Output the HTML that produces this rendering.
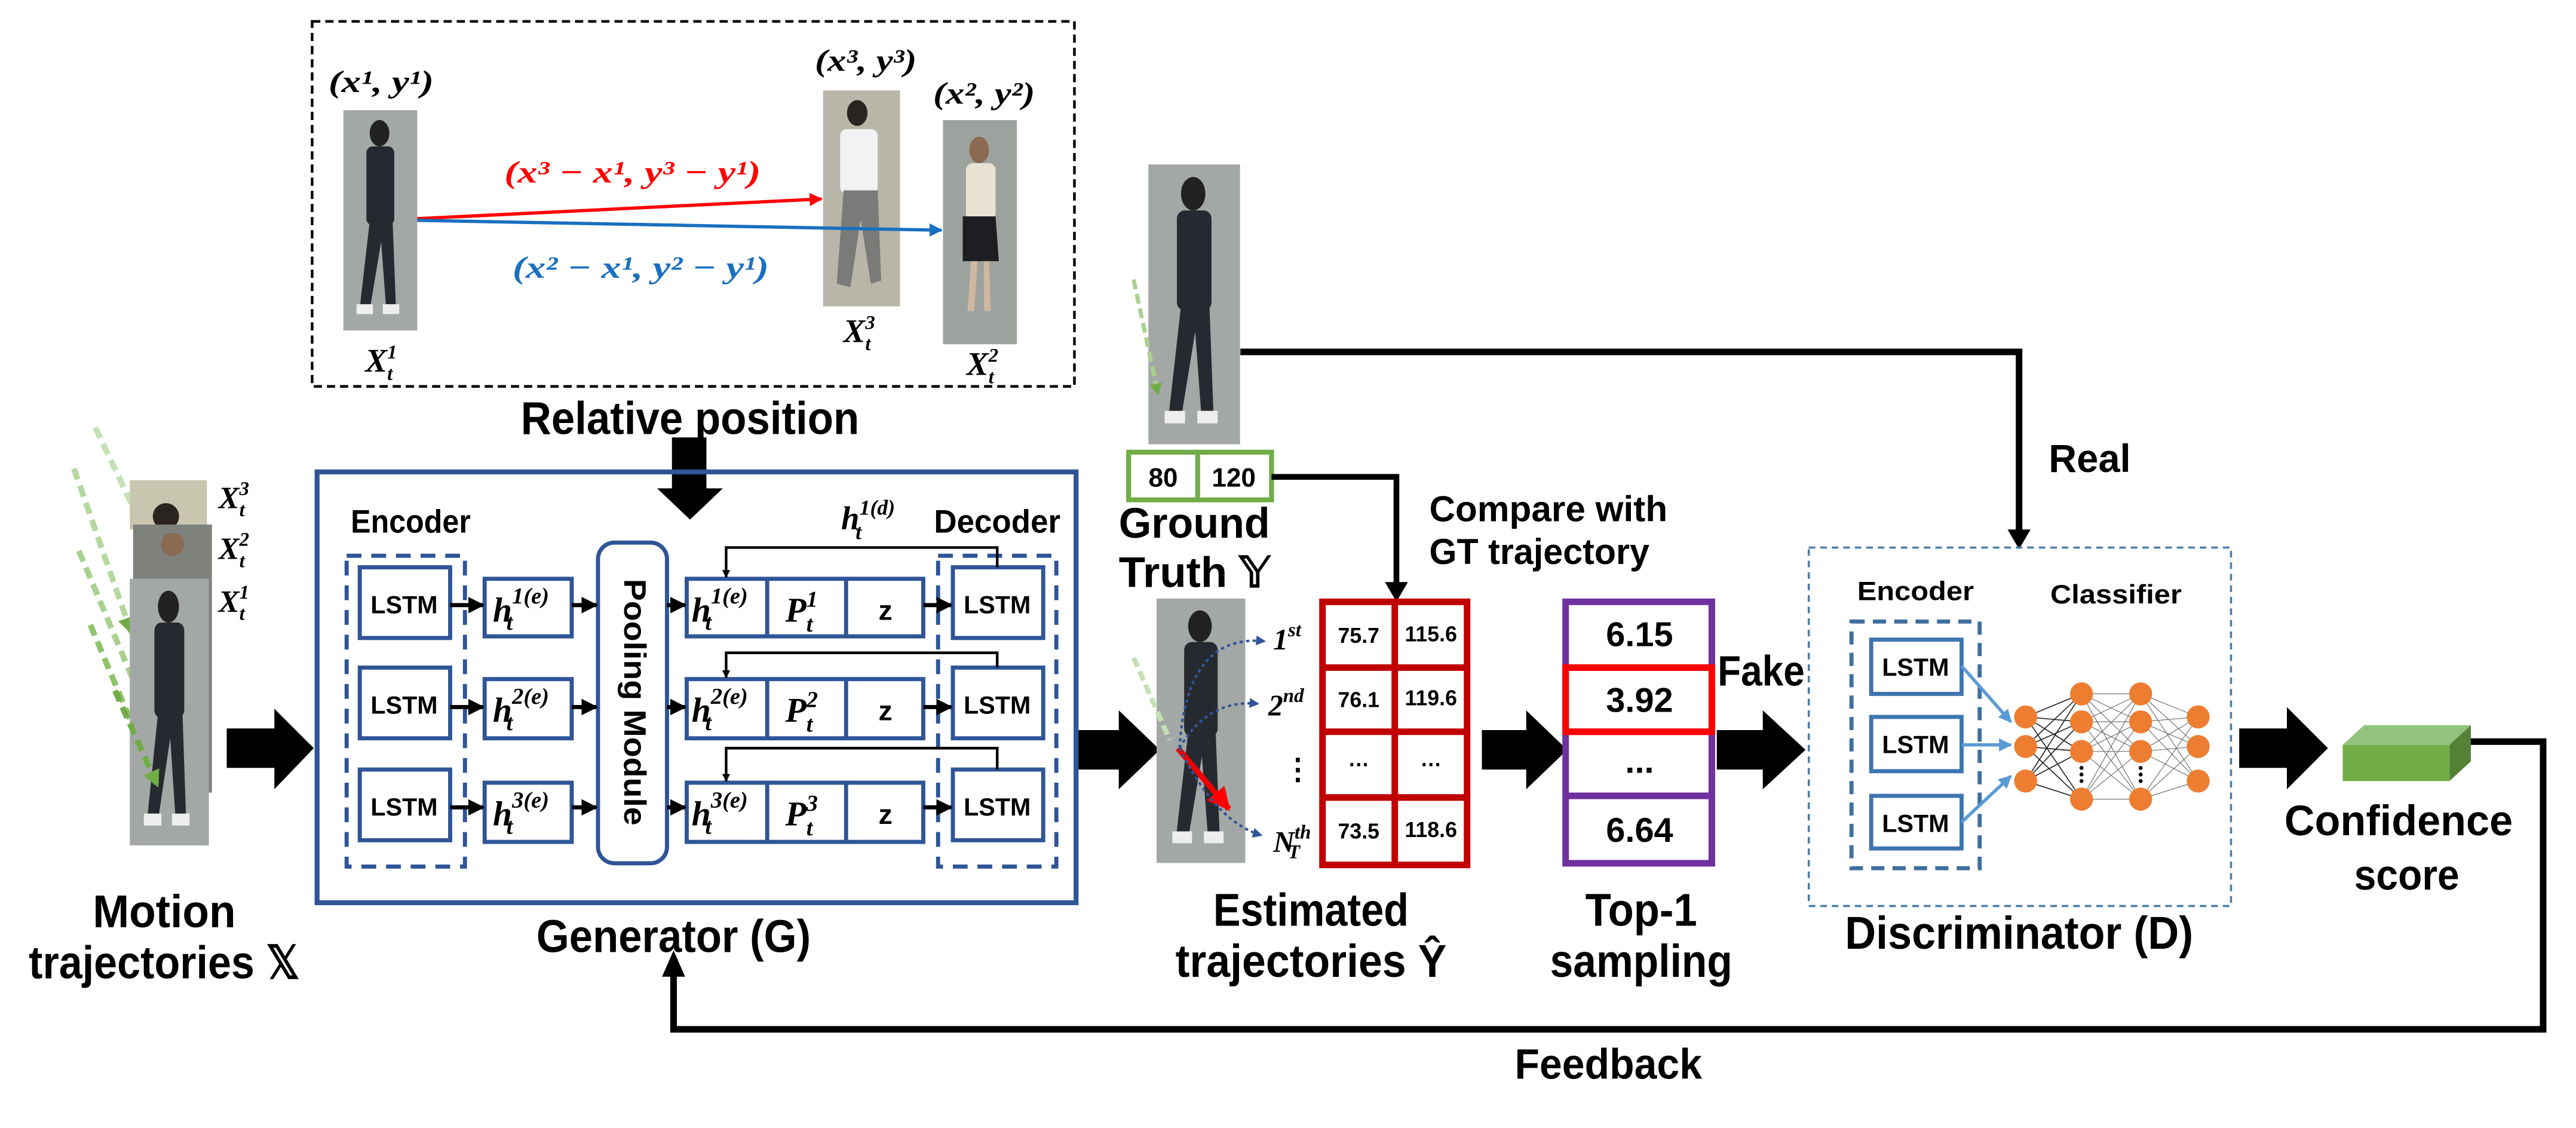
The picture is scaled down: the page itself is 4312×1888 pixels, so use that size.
<!DOCTYPE html>
<html><head><meta charset="utf-8"><style>
html,body{margin:0;padding:0;background:#fff;}
svg{display:block;}
.b{font-family:"Liberation Sans",sans-serif;font-weight:bold;fill:#000;}
.m{font-family:"Liberation Serif",serif;font-style:italic;font-weight:bold;fill:#000;}
</style></head><body>
<svg xmlns="http://www.w3.org/2000/svg" width="4312" height="1888" viewBox="0 0 1568 686" preserveAspectRatio="none">
<defs>
<marker id="ah" viewBox="0 0 10 10" refX="9" refY="5" markerWidth="4" markerHeight="4" orient="auto"><path d="M0,0L10,5L0,10z" fill="#000"/></marker>
<marker id="ahr" viewBox="0 0 10 10" refX="9" refY="5" markerWidth="4" markerHeight="4" orient="auto"><path d="M0,0L10,5L0,10z" fill="#f00"/></marker>
<marker id="ahb" viewBox="0 0 10 10" refX="9" refY="5" markerWidth="4" markerHeight="4" orient="auto"><path d="M0,0L10,5L0,10z" fill="#1a6fc0"/></marker>
<marker id="ahl" viewBox="0 0 10 10" refX="9" refY="5" markerWidth="4" markerHeight="4" orient="auto"><path d="M0,0L10,5L0,10z" fill="#5b9bd5"/></marker>
<marker id="ahs" viewBox="0 0 10 10" refX="9" refY="5" markerWidth="3" markerHeight="3" orient="auto"><path d="M0,0L10,5L0,10z" fill="#000"/></marker>
<marker id="ahd" viewBox="0 0 10 10" refX="9" refY="5" markerWidth="4" markerHeight="4" orient="auto"><path d="M0,0L10,5L0,10z" fill="#2f5597"/></marker>
<marker id="ahg" viewBox="0 0 10 10" refX="9" refY="5" markerWidth="3" markerHeight="3" orient="auto"><path d="M0,0L10,5L0,10z" fill="#70ad47"/></marker>
<g id="person">
<rect x="0" y="0" width="45" height="134" fill="#a3a8a6"/>
<ellipse cx="22" cy="14" rx="6" ry="8" fill="#222"/>
<rect x="14" y="22" width="17" height="48" rx="4" fill="#262a30"/>
<path d="M16 68L10 120L16 122L23 80L26 120L32 120L30 68z" fill="#262a30"/>
<rect x="8" y="118" width="10" height="6" fill="#eee"/><rect x="24" y="118" width="10" height="6" fill="#eee"/>
</g>
</defs>

<!-- Relative position box -->
<rect x="190" y="13" width="464" height="222" fill="none" stroke="#000" stroke-width="1.6" stroke-dasharray="5,3"/>
<use href="#person" transform="translate(209,67) scale(1,1)"/>
<g transform="translate(501,55) scale(1.04,0.98)"><rect width="45" height="134" fill="#b8b6a8"/><ellipse cx="20" cy="14" rx="6" ry="8" fill="#2a2420"/><rect x="10" y="24" width="22" height="40" rx="4" fill="#f2f2f2"/><path d="M12 62L8 120L16 122L22 80L28 120L34 118L32 62z" fill="#7a7a78"/></g>
<g transform="translate(574,73) scale(1,1.01)"><rect width="45" height="135" fill="#9ea29f"/><ellipse cx="22" cy="18" rx="6" ry="8" fill="#8a6a50"/><rect x="14" y="26" width="18" height="34" rx="4" fill="#e8e2d2"/><path d="M12 58L32 58L34 85L12 85z" fill="#1e1e22"/><path d="M17 85L15 115L19 115L21 85zM25 85L25 115L29 115L28 85z" fill="#d0b8a0"/></g>
<text class="m" x="232" y="56" font-size="19" text-anchor="middle" textLength="64" lengthAdjust="spacingAndGlyphs">(x¹, y¹)</text>
<text class="m" x="527" y="43" font-size="19" text-anchor="middle" textLength="62" lengthAdjust="spacingAndGlyphs">(x³, y³)</text>
<text class="m" x="599" y="63" font-size="19" text-anchor="middle" textLength="62" lengthAdjust="spacingAndGlyphs">(x², y²)</text>
<text class="m" x="232" y="226" font-size="20" text-anchor="middle">X<tspan font-size="12" dy="-8">1</tspan><tspan font-size="12" dx="-6" dy="13">t</tspan></text>
<text class="m" x="523" y="208" font-size="20" text-anchor="middle">X<tspan font-size="12" dy="-8">3</tspan><tspan font-size="12" dx="-6" dy="13">t</tspan></text>
<text class="m" x="598" y="228" font-size="20" text-anchor="middle">X<tspan font-size="12" dy="-8">2</tspan><tspan font-size="12" dx="-6" dy="13">t</tspan></text>
<line x1="254" y1="133" x2="500" y2="121" stroke="#f00" stroke-width="2" marker-end="url(#ahr)"/>
<line x1="254" y1="134" x2="573" y2="140" stroke="#1a6fc0" stroke-width="2" marker-end="url(#ahb)"/>
<text class="m" x="385" y="111" font-size="19" style="fill:#f00" text-anchor="middle" textLength="156" lengthAdjust="spacingAndGlyphs">(x³ − x¹, y³ − y¹)</text>
<text class="m" x="390" y="169" font-size="19" style="fill:#1a6fc0" text-anchor="middle" textLength="156" lengthAdjust="spacingAndGlyphs">(x² − x¹, y² − y¹)</text>
<text class="b" x="420" y="264" font-size="28" text-anchor="middle" textLength="206" lengthAdjust="spacingAndGlyphs">Relative position</text>
<polygon points="409,266 430,266 430,297 440,297 420,316 400,297 409,297" fill="#000"/>

<!-- Motion trajectories -->
<g stroke-width="3.5" stroke-dasharray="7,4" fill="none">
<line x1="58" y1="260" x2="96" y2="340" stroke="#c5e0b4" marker-end="url(#ahg)"/>
<line x1="45" y1="285" x2="80" y2="385" stroke="#b5d89f" marker-end="url(#ahg)"/>
<line x1="48" y1="335" x2="88" y2="430" stroke="#a9d18e" marker-end="url(#ahg)"/>
<line x1="55" y1="380" x2="95" y2="475" stroke="#8fc36a" marker-end="url(#ahg)"/>
</g>
<g transform="translate(79,292)"><rect width="47" height="30" fill="#c9c6b0"/><ellipse cx="22" cy="22" rx="8" ry="8" fill="#2a2420"/></g>
<g transform="translate(81,319)"><rect width="48" height="163" fill="#7e817c"/><ellipse cx="24" cy="12" rx="7" ry="7" fill="#8a6a50"/></g>
<use href="#person" transform="translate(79,352) scale(1.07,1.21)"/>
<line x1="70" y1="420" x2="96" y2="478" stroke="#70ad47" stroke-width="3.5" stroke-dasharray="7,4" marker-end="url(#ahg)"/>
<text class="m" x="133" y="309" font-size="19">X<tspan font-size="12" dy="-8">3</tspan><tspan font-size="12" dx="-6" dy="13">t</tspan></text>
<text class="m" x="133" y="340" font-size="19">X<tspan font-size="12" dy="-8">2</tspan><tspan font-size="12" dx="-6" dy="13">t</tspan></text>
<text class="m" x="133" y="372" font-size="19">X<tspan font-size="12" dy="-8">1</tspan><tspan font-size="12" dx="-6" dy="13">t</tspan></text>
<text class="b" x="100" y="564" font-size="28" text-anchor="middle" textLength="87" lengthAdjust="spacingAndGlyphs">Motion</text>
<text class="b" x="100" y="595" font-size="28" text-anchor="middle" textLength="165" lengthAdjust="spacingAndGlyphs">trajectories 𝕏</text>

<!-- big arrows -->
<g fill="#000">
<polygon points="138,443 167,443 167,431 191,455 167,480 167,467 138,467"/>
<polygon points="654,444 681,444 681,432 706,456 681,480 681,468 654,468"/>
<polygon points="902,444 929,444 929,432 954,456 929,480 929,468 902,468"/>
<polygon points="1045,444 1073,444 1073,432 1099,456 1073,480 1073,468 1045,468"/>
<polygon points="1363,443 1392,443 1392,430 1417,455 1392,480 1392,467 1363,467"/>
</g>

<!-- Generator -->
<rect x="193" y="287" width="462" height="262" fill="none" stroke="#2f5597" stroke-width="3"/>
<text class="b" x="250" y="324" font-size="20" text-anchor="middle" textLength="73" lengthAdjust="spacingAndGlyphs">Encoder</text>
<text class="b" x="607" y="324" font-size="20" text-anchor="middle" textLength="77" lengthAdjust="spacingAndGlyphs">Decoder</text>
<rect x="211" y="338" width="72" height="189" fill="none" stroke="#2f5597" stroke-width="2.5" stroke-dasharray="9,6"/>
<rect x="571" y="338" width="72" height="189" fill="none" stroke="#2f5597" stroke-width="2.5" stroke-dasharray="9,6"/>
<rect x="364" y="330" width="42" height="195" rx="10" fill="#fff" stroke="#2f5597" stroke-width="2.5"/>
<text class="b" transform="translate(380,427) rotate(90)" font-size="19" text-anchor="middle" textLength="150" lengthAdjust="spacingAndGlyphs">Pooling Module</text>
<text class="m" x="512" y="322" font-size="20">h<tspan font-size="13" dy="-9">1(d)</tspan><tspan font-size="13" dx="-24" dy="15">t</tspan></text>
<g fill="none" stroke="#2f5597" stroke-width="2.5">
<rect x="219" y="345" width="55" height="43" fill="#fff"/><rect x="219" y="406" width="55" height="43" fill="#fff"/><rect x="219" y="468" width="55" height="43" fill="#fff"/>
<rect x="295" y="352" width="53" height="35"/><rect x="295" y="413" width="53" height="36"/><rect x="295" y="476" width="53" height="36"/>
<rect x="418" y="352" width="144" height="35"/><rect x="418" y="413" width="144" height="36"/><rect x="418" y="476" width="144" height="36"/>
<line x1="467" y1="352" x2="467" y2="387"/><line x1="515" y1="352" x2="515" y2="387"/>
<line x1="467" y1="413" x2="467" y2="449"/><line x1="515" y1="413" x2="515" y2="449"/>
<line x1="467" y1="476" x2="467" y2="512"/><line x1="515" y1="476" x2="515" y2="512"/>
<rect x="580" y="345" width="55" height="43" fill="#fff"/><rect x="580" y="406" width="55" height="43" fill="#fff"/><rect x="580" y="468" width="55" height="43" fill="#fff"/>
</g>
<g class="b" font-size="15" text-anchor="middle">
<text x="246" y="373" class="b">LSTM</text><text x="246" y="434" class="b">LSTM</text><text x="246" y="496" class="b">LSTM</text>
<text x="607" y="373" class="b">LSTM</text><text x="607" y="434" class="b">LSTM</text><text x="607" y="496" class="b">LSTM</text>
<text x="539" y="377" class="b" font-size="17">z</text><text x="539" y="438" class="b" font-size="17">z</text><text x="539" y="501" class="b" font-size="17">z</text>
</g>
<g font-size="21">
<text class="m" x="300" y="378">h<tspan font-size="14" dy="-11">1(e)</tspan><tspan font-size="14" dx="-26" dy="16">t</tspan></text>
<text class="m" x="300" y="439">h<tspan font-size="14" dy="-11">2(e)</tspan><tspan font-size="14" dx="-26" dy="16">t</tspan></text>
<text class="m" x="300" y="502">h<tspan font-size="14" dy="-11">3(e)</tspan><tspan font-size="14" dx="-26" dy="16">t</tspan></text>
<text class="m" x="421" y="378">h<tspan font-size="14" dy="-11">1(e)</tspan><tspan font-size="14" dx="-26" dy="16">t</tspan></text>
<text class="m" x="421" y="439">h<tspan font-size="14" dy="-11">2(e)</tspan><tspan font-size="14" dx="-26" dy="16">t</tspan></text>
<text class="m" x="421" y="502">h<tspan font-size="14" dy="-11">3(e)</tspan><tspan font-size="14" dx="-26" dy="16">t</tspan></text>
<text class="m" x="478" y="378">P<tspan font-size="14" dy="-9">1</tspan><tspan font-size="14" dx="-7" dy="15">t</tspan></text>
<text class="m" x="478" y="439">P<tspan font-size="14" dy="-9">2</tspan><tspan font-size="14" dx="-7" dy="15">t</tspan></text>
<text class="m" x="478" y="502">P<tspan font-size="14" dy="-9">3</tspan><tspan font-size="14" dx="-7" dy="15">t</tspan></text>
</g>
<g stroke="#000" stroke-width="2.5" marker-end="url(#ah)" fill="none">
<line x1="274" y1="368" x2="294" y2="368"/><line x1="274" y1="430" x2="294" y2="430"/><line x1="274" y1="491" x2="294" y2="491"/>
<line x1="348" y1="368" x2="363" y2="368"/><line x1="348" y1="430" x2="363" y2="430"/><line x1="348" y1="491" x2="363" y2="491"/>
<line x1="406" y1="368" x2="417" y2="368"/><line x1="406" y1="430" x2="417" y2="430"/><line x1="406" y1="491" x2="417" y2="491"/>
<line x1="562" y1="368" x2="579" y2="368"/><line x1="562" y1="430" x2="579" y2="430"/><line x1="562" y1="491" x2="579" y2="491"/>
</g>
<g stroke="#000" stroke-width="1.6" fill="none" marker-end="url(#ahs)">
<polyline points="607,345 607,333 442,333 442,351"/>
<polyline points="607,406 607,397 442,397 442,412"/>
<polyline points="607,468 607,455 442,455 442,475"/>
</g>
<text class="b" x="410" y="579" font-size="28" text-anchor="middle" textLength="167" lengthAdjust="spacingAndGlyphs">Generator (G)</text>

<!-- Ground truth -->
<use href="#person" transform="translate(699,100) scale(1.24,1.27)"/>
<line x1="690" y1="170" x2="705" y2="240" stroke="#a9d18e" stroke-width="2.5" stroke-dasharray="6,3" marker-end="url(#ahg)"/>
<rect x="687" y="275" width="87" height="29" fill="#fff" stroke="#70ad47" stroke-width="3"/>
<line x1="729" y1="275" x2="729" y2="304" stroke="#70ad47" stroke-width="3"/>
<text class="b" x="708" y="296" font-size="16" text-anchor="middle">80</text>
<text class="b" x="751" y="296" font-size="16" text-anchor="middle">120</text>
<text class="b" x="727" y="327" font-size="26" text-anchor="middle" textLength="92" lengthAdjust="spacingAndGlyphs">Ground</text>
<text class="b" x="727" y="357" font-size="26" text-anchor="middle" textLength="92" lengthAdjust="spacingAndGlyphs">Truth 𝕐</text>
<polyline points="774,290 850,290 850,358" fill="none" stroke="#000" stroke-width="3.5"/>
<polygon points="843,354 857,354 850,366" fill="#000"/>
<text class="b" x="870" y="317" font-size="22" textLength="145" lengthAdjust="spacingAndGlyphs">Compare with</text>
<text class="b" x="870" y="343" font-size="22" textLength="134" lengthAdjust="spacingAndGlyphs">GT trajectory</text>
<polyline points="755,214 1229,214 1229,326" fill="none" stroke="#000" stroke-width="4"/>
<polygon points="1222,322 1236,322 1229,334" fill="#000"/>
<text class="b" x="1272" y="287" font-size="24" text-anchor="middle" textLength="50" lengthAdjust="spacingAndGlyphs">Real</text>

<!-- Estimated -->
<use href="#person" transform="translate(704,364) scale(1.2,1.2)"/>
<line x1="690" y1="400" x2="712" y2="450" stroke="#c5e0b4" stroke-width="3" stroke-dasharray="6,3"/>
<line x1="717" y1="455" x2="748" y2="492" stroke="#e00" stroke-width="3.5" marker-end="url(#ahr)"/>
<g fill="none" stroke="#2f5597" stroke-width="1.5" stroke-dasharray="2,2" marker-end="url(#ahd)">
<path d="M718,455 Q722,385 770,390"/><path d="M718,455 Q735,425 766,428"/><path d="M718,455 Q740,500 768,508"/>
</g>
<text class="m" x="775" y="395" font-size="18">1<tspan font-size="12" dy="-8">st</tspan></text>
<text class="m" x="772" y="435" font-size="18">2<tspan font-size="12" dy="-8">nd</tspan></text>
<text class="b" x="790" y="474" font-size="18" text-anchor="middle">⋮</text>
<text class="m" x="775" y="518" font-size="18">N<tspan font-size="12" dy="-8">th</tspan><tspan font-size="12" dx="-14" dy="12">T</tspan></text>
<g fill="none" stroke="#c00000" stroke-width="4">
<rect x="805" y="366" width="88" height="160"/>
<line x1="849" y1="366" x2="849" y2="526"/><line x1="805" y1="406" x2="893" y2="406"/><line x1="805" y1="445" x2="893" y2="445"/><line x1="805" y1="485" x2="893" y2="485"/>
</g>
<g class="b" font-size="13" text-anchor="middle">
<text x="827" y="391" class="b">75.7</text><text x="871" y="390" class="b">115.6</text>
<text x="827" y="430" class="b">76.1</text><text x="871" y="429" class="b">119.6</text>
<text x="827" y="466" class="b">…</text><text x="871" y="466" class="b">…</text>
<text x="827" y="510" class="b">73.5</text><text x="871" y="509" class="b">118.6</text>
</g>
<text class="b" x="798" y="563" font-size="28" text-anchor="middle" textLength="119" lengthAdjust="spacingAndGlyphs">Estimated</text>
<text class="b" x="798" y="594" font-size="28" text-anchor="middle" textLength="165" lengthAdjust="spacingAndGlyphs">trajectories Ŷ</text>

<!-- Top-1 -->
<g fill="none" stroke="#7030a0" stroke-width="4">
<rect x="953" y="366" width="89" height="159"/>
<line x1="953" y1="406" x2="1042" y2="406"/><line x1="953" y1="445" x2="1042" y2="445"/><line x1="953" y1="484" x2="1042" y2="484"/>
</g>
<rect x="953" y="406" width="89" height="39" fill="none" stroke="#f00" stroke-width="4"/>
<g class="b" font-size="21" text-anchor="middle">
<text x="998" y="393" class="b">6.15</text><text x="998" y="433" class="b">3.92</text><text x="998" y="470" class="b">...</text><text x="998" y="512" class="b">6.64</text>
</g>
<text class="b" x="1072" y="417" font-size="26" text-anchor="middle" textLength="53" lengthAdjust="spacingAndGlyphs">Fake</text>
<text class="b" x="999" y="563" font-size="28" text-anchor="middle" textLength="68" lengthAdjust="spacingAndGlyphs">Top-1</text>
<text class="b" x="999" y="594" font-size="28" text-anchor="middle" textLength="111" lengthAdjust="spacingAndGlyphs">sampling</text>

<!-- Discriminator -->
<rect x="1101" y="333" width="257" height="218" fill="none" stroke="#4a7eab" stroke-width="1.3" stroke-dasharray="4,3"/>
<text class="b" x="1166" y="365" font-size="16" text-anchor="middle" textLength="71" lengthAdjust="spacingAndGlyphs">Encoder</text>
<text class="b" x="1288" y="367" font-size="16" text-anchor="middle" textLength="80" lengthAdjust="spacingAndGlyphs">Classifier</text>
<rect x="1127" y="378" width="78" height="150" fill="none" stroke="#3e6f9e" stroke-width="2.5" stroke-dasharray="8,5"/>
<g fill="#fff" stroke="#3e75b0" stroke-width="2.5">
<rect x="1139" y="389" width="55" height="33"/><rect x="1139" y="436" width="55" height="33"/><rect x="1139" y="484" width="55" height="32"/>
</g>
<g class="b" font-size="15" text-anchor="middle"><text x="1166" y="411" class="b">LSTM</text><text x="1166" y="458" class="b">LSTM</text><text x="1166" y="506" class="b">LSTM</text></g>
<g stroke="#5b9bd5" stroke-width="2" marker-end="url(#ahl)">
<line x1="1194" y1="405" x2="1224" y2="439"/><line x1="1194" y1="453" x2="1224" y2="453"/><line x1="1194" y1="500" x2="1224" y2="472"/>
</g>
<g stroke="#222" stroke-width="0.6">
<path d="M1233,436L1267,422M1233,436L1267,439M1233,436L1267,457M1233,436L1267,486M1233,454L1267,422M1233,454L1267,439M1233,454L1267,457M1233,454L1267,486M1233,475L1267,422M1233,475L1267,439M1233,475L1267,457M1233,475L1267,486"/>
<path stroke="#666" stroke-width="0.4" d="M1267,422L1303,422M1267,422L1303,439M1267,422L1303,457M1267,422L1303,486M1267,439L1303,422M1267,439L1303,439M1267,439L1303,457M1267,439L1303,486M1267,457L1303,422M1267,457L1303,439M1267,457L1303,457M1267,457L1303,486M1267,486L1303,422M1267,486L1303,439M1267,486L1303,457M1267,486L1303,486M1303,422L1338,436M1303,422L1338,454M1303,422L1338,475M1303,439L1338,436M1303,439L1338,454M1303,439L1338,475M1303,457L1338,436M1303,457L1338,454M1303,457L1338,475M1303,486L1338,436M1303,486L1338,454M1303,486L1338,475"/>
</g>
<g fill="#ed7d31">
<circle cx="1233" cy="436" r="7"/><circle cx="1233" cy="454" r="7"/><circle cx="1233" cy="475" r="7"/>
<circle cx="1267" cy="422" r="7"/><circle cx="1267" cy="439" r="7"/><circle cx="1267" cy="457" r="7"/><circle cx="1267" cy="486" r="7"/>
<circle cx="1303" cy="422" r="7"/><circle cx="1303" cy="439" r="7"/><circle cx="1303" cy="457" r="7"/><circle cx="1303" cy="486" r="7"/>
<circle cx="1338" cy="436" r="7"/><circle cx="1338" cy="454" r="7"/><circle cx="1338" cy="475" r="7"/>
</g>
<g fill="#000"><circle cx="1267" cy="467" r="1.2"/><circle cx="1267" cy="471" r="1.2"/><circle cx="1267" cy="475" r="1.2"/><circle cx="1303" cy="467" r="1.2"/><circle cx="1303" cy="471" r="1.2"/><circle cx="1303" cy="475" r="1.2"/></g>
<text class="b" x="1229" y="577" font-size="28" text-anchor="middle" textLength="212" lengthAdjust="spacingAndGlyphs">Discriminator (D)</text>

<!-- confidence -->
<polygon points="1426,453 1439,441 1504,441 1491,453" fill="#93c47d"/>
<polygon points="1491,453 1504,441 1504,463 1491,475" fill="#548235"/>
<rect x="1426" y="453" width="65" height="22" fill="#70ad47"/>
<polyline points="1504,451 1548,451 1548,626 410,626 410,592" fill="none" stroke="#000" stroke-width="4"/>
<polygon points="403,594 417,594 410,578" fill="#000"/>
<text class="b" x="1460" y="508" font-size="26" text-anchor="middle" textLength="139" lengthAdjust="spacingAndGlyphs">Confidence</text>
<text class="b" x="1465" y="541" font-size="26" text-anchor="middle" textLength="64" lengthAdjust="spacingAndGlyphs">score</text>
<text class="b" x="979" y="656" font-size="26" text-anchor="middle" textLength="114" lengthAdjust="spacingAndGlyphs">Feedback</text>
</svg>
</body></html>
